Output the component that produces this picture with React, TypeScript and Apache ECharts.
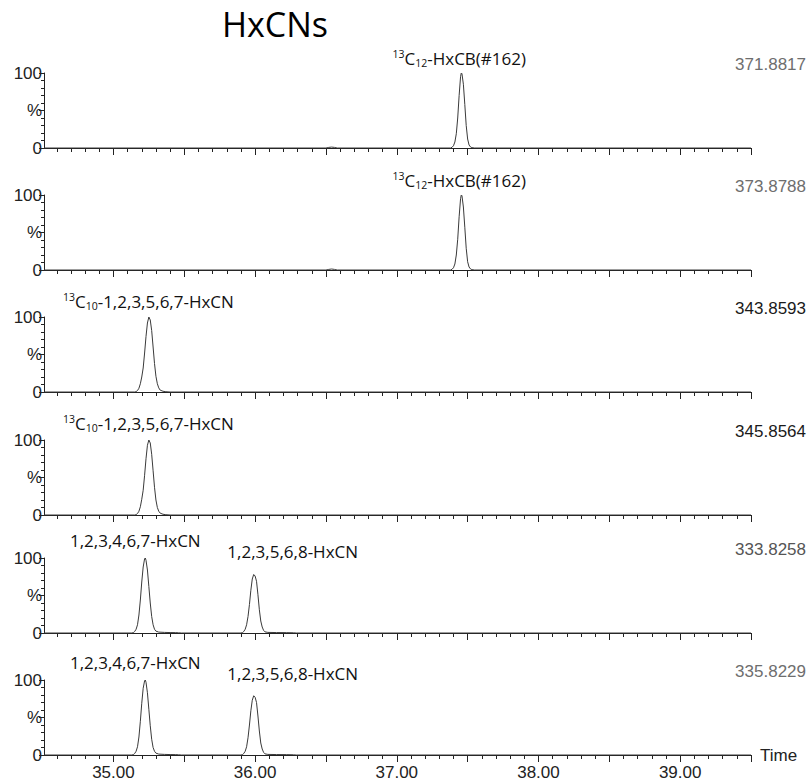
import React, { useEffect, useRef } from 'react';
import * as echarts from 'echarts';

// ---------- axis / tick definitions ----------
const TIME_MIN = 34.51;
const TIME_MAX = 39.5;
const timeLabelTicks = [35, 36, 37, 38, 39];
const timeMajorTicks = [35, 35.5, 36, 36.5, 37, 37.5, 38, 38.5, 39, 39.5];
const timeMinorTicks: number[] = [];
for (let k = 346; k <= 394; k++) if (k % 5 !== 0) timeMinorTicks.push(k / 10);

const chartTitle = 'HxCNs';
const massLabels = ['371.8817', '373.8788', '343.8593', '345.8564', '333.8258', '335.8229'];

// ---------- chromatogram traces [time (min), relative intensity %] ----------
const trace371 = [
  [34.51, 0], [36.5, 0], [36.52, 0.8], [36.54, 1.2], [36.56, 0.8], [36.58, 0],
  [37.38, 0], [37.39, 1], [37.4, 3], [37.41, 8], [37.42, 19], [37.43, 40], [37.44, 70],
  [37.45, 95], [37.455, 100], [37.46, 99], [37.47, 85], [37.48, 58], [37.49, 30],
  [37.5, 12], [37.51, 4], [37.52, 1.5], [37.53, 0.5], [37.55, 0], [39.5, 0],
];
const trace373 = [
  [34.51, 0], [36.5, 0], [36.52, 0.8], [36.54, 1.3], [36.56, 0.8], [36.58, 0],
  [37.38, 0], [37.39, 1], [37.4, 3], [37.41, 8], [37.42, 20], [37.43, 41], [37.44, 71],
  [37.45, 95], [37.455, 100], [37.46, 99], [37.47, 84], [37.48, 57], [37.49, 29],
  [37.5, 11], [37.51, 4], [37.52, 1.5], [37.53, 0.5], [37.55, 0], [39.5, 0],
];
const trace343 = [
  [34.51, 0], [35.15, 0], [35.16, 0.5], [35.17, 2], [35.18, 5], [35.19, 11], [35.2, 20],
  [35.21, 32], [35.22, 52], [35.23, 74], [35.24, 92], [35.25, 100], [35.26, 96],
  [35.27, 82], [35.28, 60], [35.29, 38], [35.3, 21], [35.31, 11], [35.32, 5.5],
  [35.33, 2.5], [35.35, 1], [35.37, 0.4], [35.4, 0], [39.5, 0],
];
const trace345 = [
  [34.51, 0], [35.15, 0], [35.16, 0.5], [35.17, 2], [35.18, 5], [35.19, 11], [35.2, 21],
  [35.21, 33], [35.22, 53], [35.23, 75], [35.24, 93], [35.25, 100], [35.26, 96],
  [35.27, 81], [35.28, 59], [35.29, 37], [35.3, 20], [35.31, 10], [35.32, 5],
  [35.33, 2.5], [35.35, 1], [35.37, 0.4], [35.4, 0], [39.5, 0],
];
const trace333 = [
  [34.51, 0], [35.13, 0], [35.14, 0.5], [35.15, 2], [35.16, 5], [35.17, 11], [35.18, 24],
  [35.19, 44], [35.2, 68], [35.21, 88], [35.22, 99], [35.225, 100], [35.23, 97],
  [35.24, 84], [35.25, 62], [35.26, 40], [35.27, 22], [35.28, 11], [35.29, 5],
  [35.3, 2.5], [35.32, 1.2], [35.36, 0.8], [35.4, 0.6], [35.44, 0.5], [35.46, 0.3], [35.48, 0],
  [35.9, 0], [35.91, 0.5], [35.92, 2], [35.93, 5], [35.94, 11], [35.95, 22], [35.96, 38],
  [35.97, 57], [35.98, 72], [35.99, 78], [36.0, 76], [36.01, 69], [36.02, 51], [36.03, 31],
  [36.04, 16], [36.05, 8], [36.06, 3.5], [36.07, 1.5], [36.09, 0.8], [36.15, 0.6],
  [36.22, 0.5], [36.27, 0.3], [36.29, 0], [39.5, 0],
];
const trace335 = [
  [34.51, 0], [35.13, 0], [35.14, 0.5], [35.15, 2], [35.16, 5], [35.17, 11], [35.18, 24],
  [35.19, 45], [35.2, 69], [35.21, 89], [35.22, 99], [35.225, 100], [35.23, 97],
  [35.24, 83], [35.25, 61], [35.26, 39], [35.27, 21], [35.28, 10], [35.29, 5],
  [35.3, 2.5], [35.32, 1.2], [35.36, 0.8], [35.4, 0.6], [35.44, 0.5], [35.46, 0.3], [35.48, 0],
  [35.9, 0], [35.91, 0.5], [35.92, 2], [35.93, 5], [35.94, 11], [35.95, 23], [35.96, 40],
  [35.97, 59], [35.98, 73], [35.99, 79], [36.0, 77], [36.01, 70], [36.02, 52], [36.03, 32],
  [36.04, 16], [36.05, 8], [36.06, 3.5], [36.07, 1.5], [36.09, 0.8], [36.15, 0.6],
  [36.22, 0.5], [36.27, 0.3], [36.29, 0], [39.5, 0],
];

// ---------- peak annotations ----------
const hxcbLabel = '{sup|13}C{sub|12}-HxCB(#162)';
const labeledHxcnLabel = '{sup|13}C{sub|10}-1,2,3,5,6,7-HxCN';
const peakA = '1,2,3,4,6,7-HxCN';
const peakB = '1,2,3,5,6,8-HxCN';
const peakTimes371 = [37.455];
const peakTimes343 = [35.254];
const peakTimes333 = [35.225, 35.99];

// ---------- layout / style ----------
const panelTops = [73, 195, 317, 440, 558, 680];
const panelHeight = 75;
const gridLeft = 44;
const gridWidth = 707;
const massColors = ['#6e6e6e', '#6e6e6e', '#1a1a1a', '#1a1a1a', '#555555', '#6e6e6e'];

const panels = [
  { trace: trace371, times: peakTimes371, texts: [hxcbLabel], offsets: [[-2, -15]] },
  { trace: trace373, times: peakTimes371, texts: [hxcbLabel], offsets: [[-2, -15]] },
  { trace: trace343, times: peakTimes343, texts: [labeledHxcnLabel], offsets: [[-1, -16]] },
  { trace: trace345, times: peakTimes343, texts: [labeledHxcnLabel], offsets: [[-1, -17]] },
  { trace: trace333, times: peakTimes333, texts: [peakA, peakB], offsets: [[-10, -18], [39, -7]] },
  { trace: trace335, times: peakTimes333, texts: [peakA, peakB], offsets: [[-10, -18], [39, -7]] },
];

const AXIS_COLOR = '#222';
const TEXT_FONT = 'Liberation Sans';

export default function App() {
  const ref = useRef<HTMLDivElement>(null);

  useEffect(() => {
    document.body.style.margin = '0';
    const chart = echarts.init(ref.current!, undefined, { renderer: 'svg' });

    const rich = {
      sup: { fontSize: 10.5, fontFamily: 'Open Sans', color: '#111', verticalAlign: 'top', lineHeight: 10 },
      sub: { fontSize: 10.5, fontFamily: 'Open Sans', color: '#111', verticalAlign: 'bottom', lineHeight: 4 },
    };

    const grid = panelTops.map((top) => ({
      left: gridLeft,
      top,
      width: gridWidth,
      height: panelHeight,
    }));

    const xAxis: any[] = [];
    panelTops.forEach((_, i) => {
      xAxis.push({
        type: 'value',
        gridIndex: i,
        position: 'bottom',
        min: TIME_MIN,
        max: TIME_MAX,
        axisLine: { show: true, onZero: false, lineStyle: { color: AXIS_COLOR, width: 1 } },
        axisTick: {
          show: true,
          customValues: timeMajorTicks,
          length: 7,
          lineStyle: { color: AXIS_COLOR, width: 1 },
        },
        axisLabel: {
          show: i === panelTops.length - 1,
          customValues: timeLabelTicks,
          formatter: (v: number) => v.toFixed(2),
          fontSize: 17,
          fontFamily: TEXT_FONT,
          color: AXIS_COLOR,
          margin: 9,
        },
        splitLine: { show: false },
        name: i === panelTops.length - 1 ? 'Time' : '',
        nameLocation: 'end',
        nameGap: 9,
        nameTextStyle: { fontSize: 17, fontFamily: TEXT_FONT, color: AXIS_COLOR },
      });
    });
    panelTops.forEach((_, i) => {
      xAxis.push({
        type: 'value',
        gridIndex: i,
        position: 'bottom',
        offset: 0,
        min: TIME_MIN,
        max: TIME_MAX,
        axisLine: { show: false, onZero: false },
        axisTick: {
          show: true,
          customValues: timeMinorTicks,
          length: 4,
          lineStyle: { color: AXIS_COLOR, width: 1 },
        },
        axisLabel: { show: false },
        splitLine: { show: false },
      });
    });

    const yAxis = panelTops.map((_, i) => ({
      type: 'value',
      gridIndex: i,
      position: 'left',
      min: 0,
      max: 100,
      interval: 50,
      axisLine: { show: true, onZero: false, lineStyle: { color: AXIS_COLOR, width: 1 } },
      axisTick: { show: true, length: 5, lineStyle: { color: AXIS_COLOR, width: 1 } },
      minorTick: { show: true, splitNumber: 5, length: 3, lineStyle: { color: AXIS_COLOR, width: 1 } },
      axisLabel: {
        formatter: (v: number) => (v === 50 ? '%' : String(v)),
        fontSize: 17,
        fontFamily: TEXT_FONT,
        color: AXIS_COLOR,
        margin: 2,
      },
      splitLine: { show: false },
      minorSplitLine: { show: false },
    }));

    const series = panels.map((p, i) => ({
      type: 'line',
      xAxisIndex: i,
      yAxisIndex: i,
      data: p.trace,
      symbol: 'none',
      showSymbol: false,
      lineStyle: { color: '#3a3a3a', width: 1 },
      z: 3,
      markPoint: {
        symbol: 'circle',
        symbolSize: 0,
        silent: true,
        itemStyle: { color: 'rgba(0,0,0,0)' },
        label: {
          show: true,
          position: 'inside',
          color: '#111',
          fontFamily: 'Open Sans',
          fontSize: 17,
          lineHeight: 20,
          rich,
        },
        data: p.times.map((t, k) => ({
          coord: [t, 100],
          value: 0,
          label: { formatter: p.texts[k], offset: p.offsets[k] },
        })),
      },
    }));

    const graphic: any[] = [
      {
        type: 'text',
        x: 275,
        y: 24,
        style: {
          text: chartTitle,
          font: '34px "Open Sans"',
          fill: '#000',
          textAlign: 'center',
          textVerticalAlign: 'middle',
        },
      },
      ...massLabels.map((m, i) => ({
        type: 'text',
        x: 806,
        y: panelTops[i] - 9,
        style: {
          text: m,
          font: `17px "${TEXT_FONT}"`,
          fill: massColors[i],
          textAlign: 'right',
          textVerticalAlign: 'middle',
        },
      })),
    ];

    chart.setOption({
      animation: false,
      backgroundColor: '#fff',
      grid,
      xAxis,
      yAxis,
      series,
      graphic,
    });

    return () => chart.dispose();
  }, []);

  return <div ref={ref} style={{ width: 810, height: 784 }} />;
}
